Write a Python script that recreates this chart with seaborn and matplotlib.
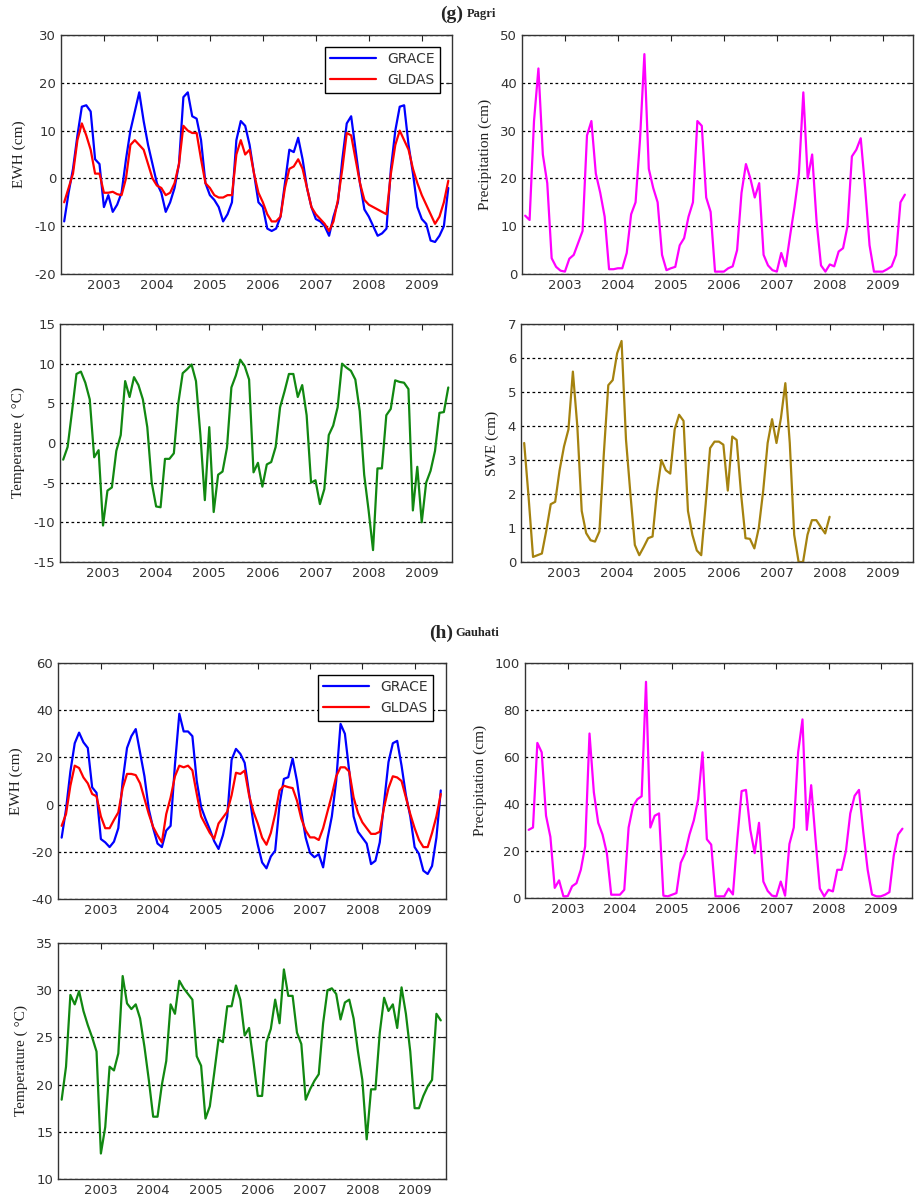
import numpy as np
import pandas as pd
import seaborn as sns
import matplotlib.pyplot as plt

# ---- data (monthly, starting April 2002) ----
pagri_grace = [-9, -3, 2, 9, 15, 15.3, 14, 4, 3, -6, -3.5, -7, -5.5, -3, 4, 10, 14, 18, 12, 7,
               3, -1, -3, -7, -5, -2, 3, 17, 18, 13, 12.5, 8, -1, -3.5, -4.5, -6, -9, -7.5, -5, 8,
               12, 11, 7, 1, -5, -6, -10.5, -11, -10.5, -8, -1, 6, 5.5, 8.5, 4, -2, -6, -8.5, -9, -10,
               -12, -8, -5, 4, 11.5, 13, 6, -1, -6.5, -8, -10, -12, -11.5, -10.5, 2, 10, 15, 15.3, 7, 1,
               -6, -8.5, -9.5, -13, -13.3, -12, -10, -2]
pagri_gldas = [-5, -2, 1, 8, 11.5, 9, 6, 1, 1, -3, -3, -2.8, -3.3, -3.5, 0, 7, 8, 7, 6, 3,
               0, -1.5, -2, -3.5, -3, -1, 3, 11, 10, 9.5, 9.5, 4, -1, -2, -3.5, -4, -4, -3.5, -3.5, 5,
               8, 5, 6, 1, -3, -5, -7.5, -9, -9, -8, -2, 2, 2.5, 4, 2, -2, -6, -7.5, -8.5, -9.5,
               -11, -9, -4.5, 2, 9.5, 9, 4, -1, -4.5, -5.5, -6, -6.5, -7, -7.5, 1, 7, 10, 8, 6, 2,
               -1, -3.5, -5.5, -7.5, -9.5, -8, -5, -0.5]
pagri_prec = [12.2, 11.3, 32, 43, 25, 19, 3.3, 1.5, 0.7, 0.5, 3.2, 4, 6.5, 9, 29, 32, 21, 17, 12, 1,
              1, 1.2, 1.2, 4.4, 12.5, 15, 28, 46, 22, 18, 15, 4, 0.8, 1.2, 1.5, 6, 7.5, 12, 15, 32,
              31, 16, 13, 0.5, 0.5, 0.5, 1.2, 1.6, 5, 17, 23, 20, 16, 19, 4, 1.8, 0.8, 0.5, 4.4, 1.6,
              8, 14, 21, 38, 20, 25, 11, 1.8, 0.5, 2, 1.6, 4.7, 5.4, 10, 24.6, 26, 28.4, 18, 6, 0.5,
              0.5, 0.5, 1, 1.6, 4, 15, 16.6]
pagri_temp = [-2.1, -0.5, 4, 8.7, 9, 7.6, 5.5, -1.8, -0.9, -10.4, -6, -5.6, -1, 1, 7.8, 5.8, 8.3, 7.3, 5.5, 2,
              -5, -8, -8.1, -2, -2, -1.3, 5, 8.8, 9.3, 9.9, 7.8, 1, -7.2, 2, -8.7, -4, -3.6, -0.6, 7, 8.5,
              10.5, 9.7, 8, -3.7, -2.5, -5.5, -2.7, -2.4, -0.5, 4.5, 6.5, 8.7, 8.7, 5.8, 7.3, 3.5, -5, -4.7, -7.7, -5.8,
              1, 2.2, 4.5, 10, 9.5, 9.1, 8, 4, -4, -8.5, -13.5, -3.2, -3.2, 3.5, 4.3, 7.9, 7.7, 7.6, 6.8, -8.5,
              -3, -10, -5, -3.5, -1, 3.8, 3.9, 7]
pagri_swe = [3.5, 1.9, 0.15, 0.2, 0.25, 0.93, 1.7, 1.77, 2.7, 3.4, 3.9, 5.6, 4.0, 1.5, 0.85, 0.64, 0.6, 0.9, 3.2, 5.2,
             5.35, 6.14, 6.5, 3.6, 2.0, 0.5, 0.2, 0.44, 0.7, 0.75, 2.07, 3.0, 2.7, 2.6, 3.9, 4.33, 4.15, 1.5, 0.8, 0.34,
             0.2, 1.7, 3.35, 3.54, 3.54, 3.45, 2.1, 3.69, 3.59, 2.0, 0.7, 0.68, 0.4, 1.0, 2.1, 3.5, 4.2, 3.5, 4.23, 5.26,
             3.5, 0.8, 0.0, 0.0, 0.8, 1.23, 1.23, 1.03, 0.84, 1.33]

gauh_grace = [-14, -2, 14, 26, 30.5, 26.4, 24, 7.3, 5, -14.6, -16, -18, -15.7, -10, 10, 24, 29, 32, 22, 12,
              -2, -10, -16.5, -18, -11, -9, 17, 38.5, 31, 31, 29, 10, -1, -6, -10.5, -15.5, -18.8, -13, -5, 19,
              23.6, 21.5, 17.7, 5, -8, -17, -24.5, -27, -22, -19.5, 0, 10.9, 11.6, 19.5, 10, -3, -14, -20.5, -22.3, -21,
              -26.6, -14.5, -5, 10, 34.2, 30, 14, -5, -11.5, -14, -16.5, -25.2, -23.8, -16, 1, 18, 26, 27, 16.5, 4,
              -5, -18, -20.9, -28, -29.4, -26, -14, 6]
gauh_gldas = [-9, -4, 8, 16.5, 15.5, 11.5, 9, 4.5, 3.5, -5, -10, -10, -6.5, -3.3, 7, 13, 13, 12.5, 9, 2.5,
              -4, -9.5, -13, -16, -4, 3, 12, 16.5, 15.8, 16.5, 14.5, 4.5, -5, -8.5, -12, -14.5, -8, -5.5, -3, 4,
              13.5, 13, 14.4, 4, -3, -8, -14, -17, -12, -4, 6, 8, 7.4, 7, 1.7, -6, -11, -13.9, -13.9, -15,
              -10, -3, 4, 12, 15.8, 15.8, 14, 3, -3.5, -7.5, -10, -12.4, -12.4, -11.5, -1, 7, 12, 11.5, 10, 3,
              -4, -10, -15, -18, -18, -12, -5, 4.5]
gauh_prec = [29, 30, 66, 62, 35, 26, 4.3, 7.5, 0.7, 0.8, 5, 6.3, 12, 22, 70, 45, 32, 27, 19, 1.4,
             1.4, 1.4, 3.5, 30, 39, 42, 43.3, 92, 30, 35, 36, 1, 0.7, 1.4, 2.1, 15, 19, 27, 33, 42,
             62, 25, 22.7, 0.7, 0.7, 0.7, 4, 1.5, 25, 45.5, 46, 29, 19.1, 32, 7, 3, 1, 0.7, 7, 1,
             23, 30, 62, 76, 29, 48, 25, 4, 0.7, 3.5, 2.8, 12, 12, 20, 36, 43.5, 46, 28, 12, 1.5,
             0.7, 0.7, 1.4, 2.5, 18, 27, 29.5]
gauh_temp = [18.4, 21.9, 29.5, 28.5, 29.9, 27.8, 26.3, 25, 23.5, 12.7, 15.5, 21.9, 21.5, 23.3, 31.5, 28.6, 28, 28.5, 27, 24,
             20.5, 16.6, 16.6, 20, 22.5, 28.5, 27.5, 31, 30.2, 29.6, 29, 23, 22, 16.4, 17.7, 21.2, 24.8, 24.5, 28.3, 28.3,
             30.5, 29, 25.2, 26, 22.5, 18.8, 18.8, 24.5, 25.9, 29, 26.5, 32.2, 29.4, 29.4, 25.5, 24.3, 18.4, 19.5, 20.4, 21.1,
             26.5, 30, 30.2, 29.6, 26.9, 28.7, 29, 27, 23.5, 20.5, 14.2, 19.5, 19.5, 25.5, 29.2, 27.8, 28.5, 26, 30.3, 27.5,
             23.5, 17.5, 17.5, 18.8, 19.8, 20.5, 27.5, 26.8]

years = list(range(2003, 2010))


def months(vals):
    return 2002.25 + np.arange(len(vals)) / 12.0


sns.set_style("white")
plt.rcParams["font.family"] = ["DejaVu Sans"]

fig = plt.figure(figsize=(9.16, 12), dpi=100)

serif = ["Liberation Serif", "DejaVu Serif"]


def style(ax, ylim, yticks, ylabel, xlim):
    ax.set_xlim(*xlim)
    ax.set_ylim(*ylim)
    ax.set_xticks(years)
    ax.set_xticklabels([str(y) for y in years])
    ax.set_yticks(yticks)
    ax.set_yticklabels([str(v) for v in yticks])
    ax.tick_params(direction="in", top=True, right=True, length=4, width=0.8,
                   labelsize=9.5, labelcolor="#333333", color="#222222")
    for sp in ax.spines.values():
        sp.set_color("#333333")
        sp.set_linewidth(1.0)
    for v in yticks:
        ax.axhline(v, color="black", linestyle=(0, (2.2, 2.2)), linewidth=0.9, zorder=0)
    ax.set_xlabel("")
    ax.set_ylabel(ylabel, fontsize=11, family=serif, color="#222222", labelpad=6)


def draw(ax, vals, color, label=None):
    df = pd.DataFrame({"t": months(vals), "v": vals})
    sns.lineplot(data=df, x="t", y="v", ax=ax, color=color, linewidth=1.6,
                 label=label, legend=bool(label))


W = 916.0
H = 1200.0


def axrect(x0, y0, x1, y1):
    return fig.add_axes([x0 / W, 1 - y1 / H, (x1 - x0) / W, (y1 - y0) / H])


xl_top = (2002.19, 2009.57)
xl_bot = (2002.18, 2009.6)

# (g) Pagri
ax1 = axrect(61, 35, 452, 274)
draw(ax1, pagri_grace, "#0000ff", "GRACE")
draw(ax1, pagri_gldas, "#ff0000", "GLDAS")
style(ax1, (-20, 30), [-20, -10, 0, 10, 20, 30], "EWH (cm)", xl_top)
leg = ax1.legend(loc="upper right", frameon=True, fancybox=False, fontsize=10,
                 edgecolor="black", framealpha=1, handlelength=3.3, borderpad=0.4,
                 labelspacing=0.5, bbox_to_anchor=(0.988, 0.98))
for t in leg.get_texts():
    t.set_color("#333333")

ax2 = axrect(522, 35, 913, 274)
draw(ax2, pagri_prec, "#ff00ff")
style(ax2, (0, 50), [0, 10, 20, 30, 40, 50], "Precipitation (cm)", xl_top)

ax3 = axrect(60, 324, 452, 562)
draw(ax3, pagri_temp, "#118811")
style(ax3, (-15, 15), [-15, -10, -5, 0, 5, 10, 15], "Temperature ( °C)", xl_top)

ax4 = axrect(521, 324, 913, 562)
draw(ax4, pagri_swe, "#a5820f")
style(ax4, (0, 7), [0, 1, 2, 3, 4, 5, 6, 7], "SWE (cm)", xl_top)

# (h) Gauhati
ax5 = axrect(58, 663, 446, 899)
draw(ax5, gauh_grace, "#0000ff", "GRACE")
draw(ax5, gauh_gldas, "#ff0000", "GLDAS")
style(ax5, (-40, 60), [-40, -20, 0, 20, 40, 60], "EWH (cm)", xl_bot)
leg = ax5.legend(loc="upper right", frameon=True, fancybox=False, fontsize=10,
                 edgecolor="black", framealpha=1, handlelength=3.3, borderpad=0.4,
                 labelspacing=0.5, bbox_to_anchor=(0.985, 0.98))
for t in leg.get_texts():
    t.set_color("#333333")

ax6 = axrect(525, 663, 912, 898)
draw(ax6, gauh_prec, "#ff00ff")
style(ax6, (0, 100), [0, 20, 40, 60, 80, 100], "Precipitation (cm)", xl_bot)

ax7 = axrect(58, 943, 446, 1179)
draw(ax7, gauh_temp, "#118811")
style(ax7, (10, 35), [10, 15, 20, 25, 30, 35], "Temperature ( °C)", xl_bot)

# panel titles
fig.text(440 / W, 1 - 14 / H, "(g)", fontsize=14, fontweight="bold", family=serif, va="center")
fig.text(467 / W, 1 - 14 / H, "Pagri", fontsize=9, fontweight="bold", family=serif, va="center")
fig.text(429 / W, 1 - 633 / H, "(h)", fontsize=14, fontweight="bold", family=serif, va="center")
fig.text(455 / W, 1 - 633 / H, "Gauhati", fontsize=9, fontweight="bold", family=serif, va="center")

fig.savefig("out.png", dpi=100)
